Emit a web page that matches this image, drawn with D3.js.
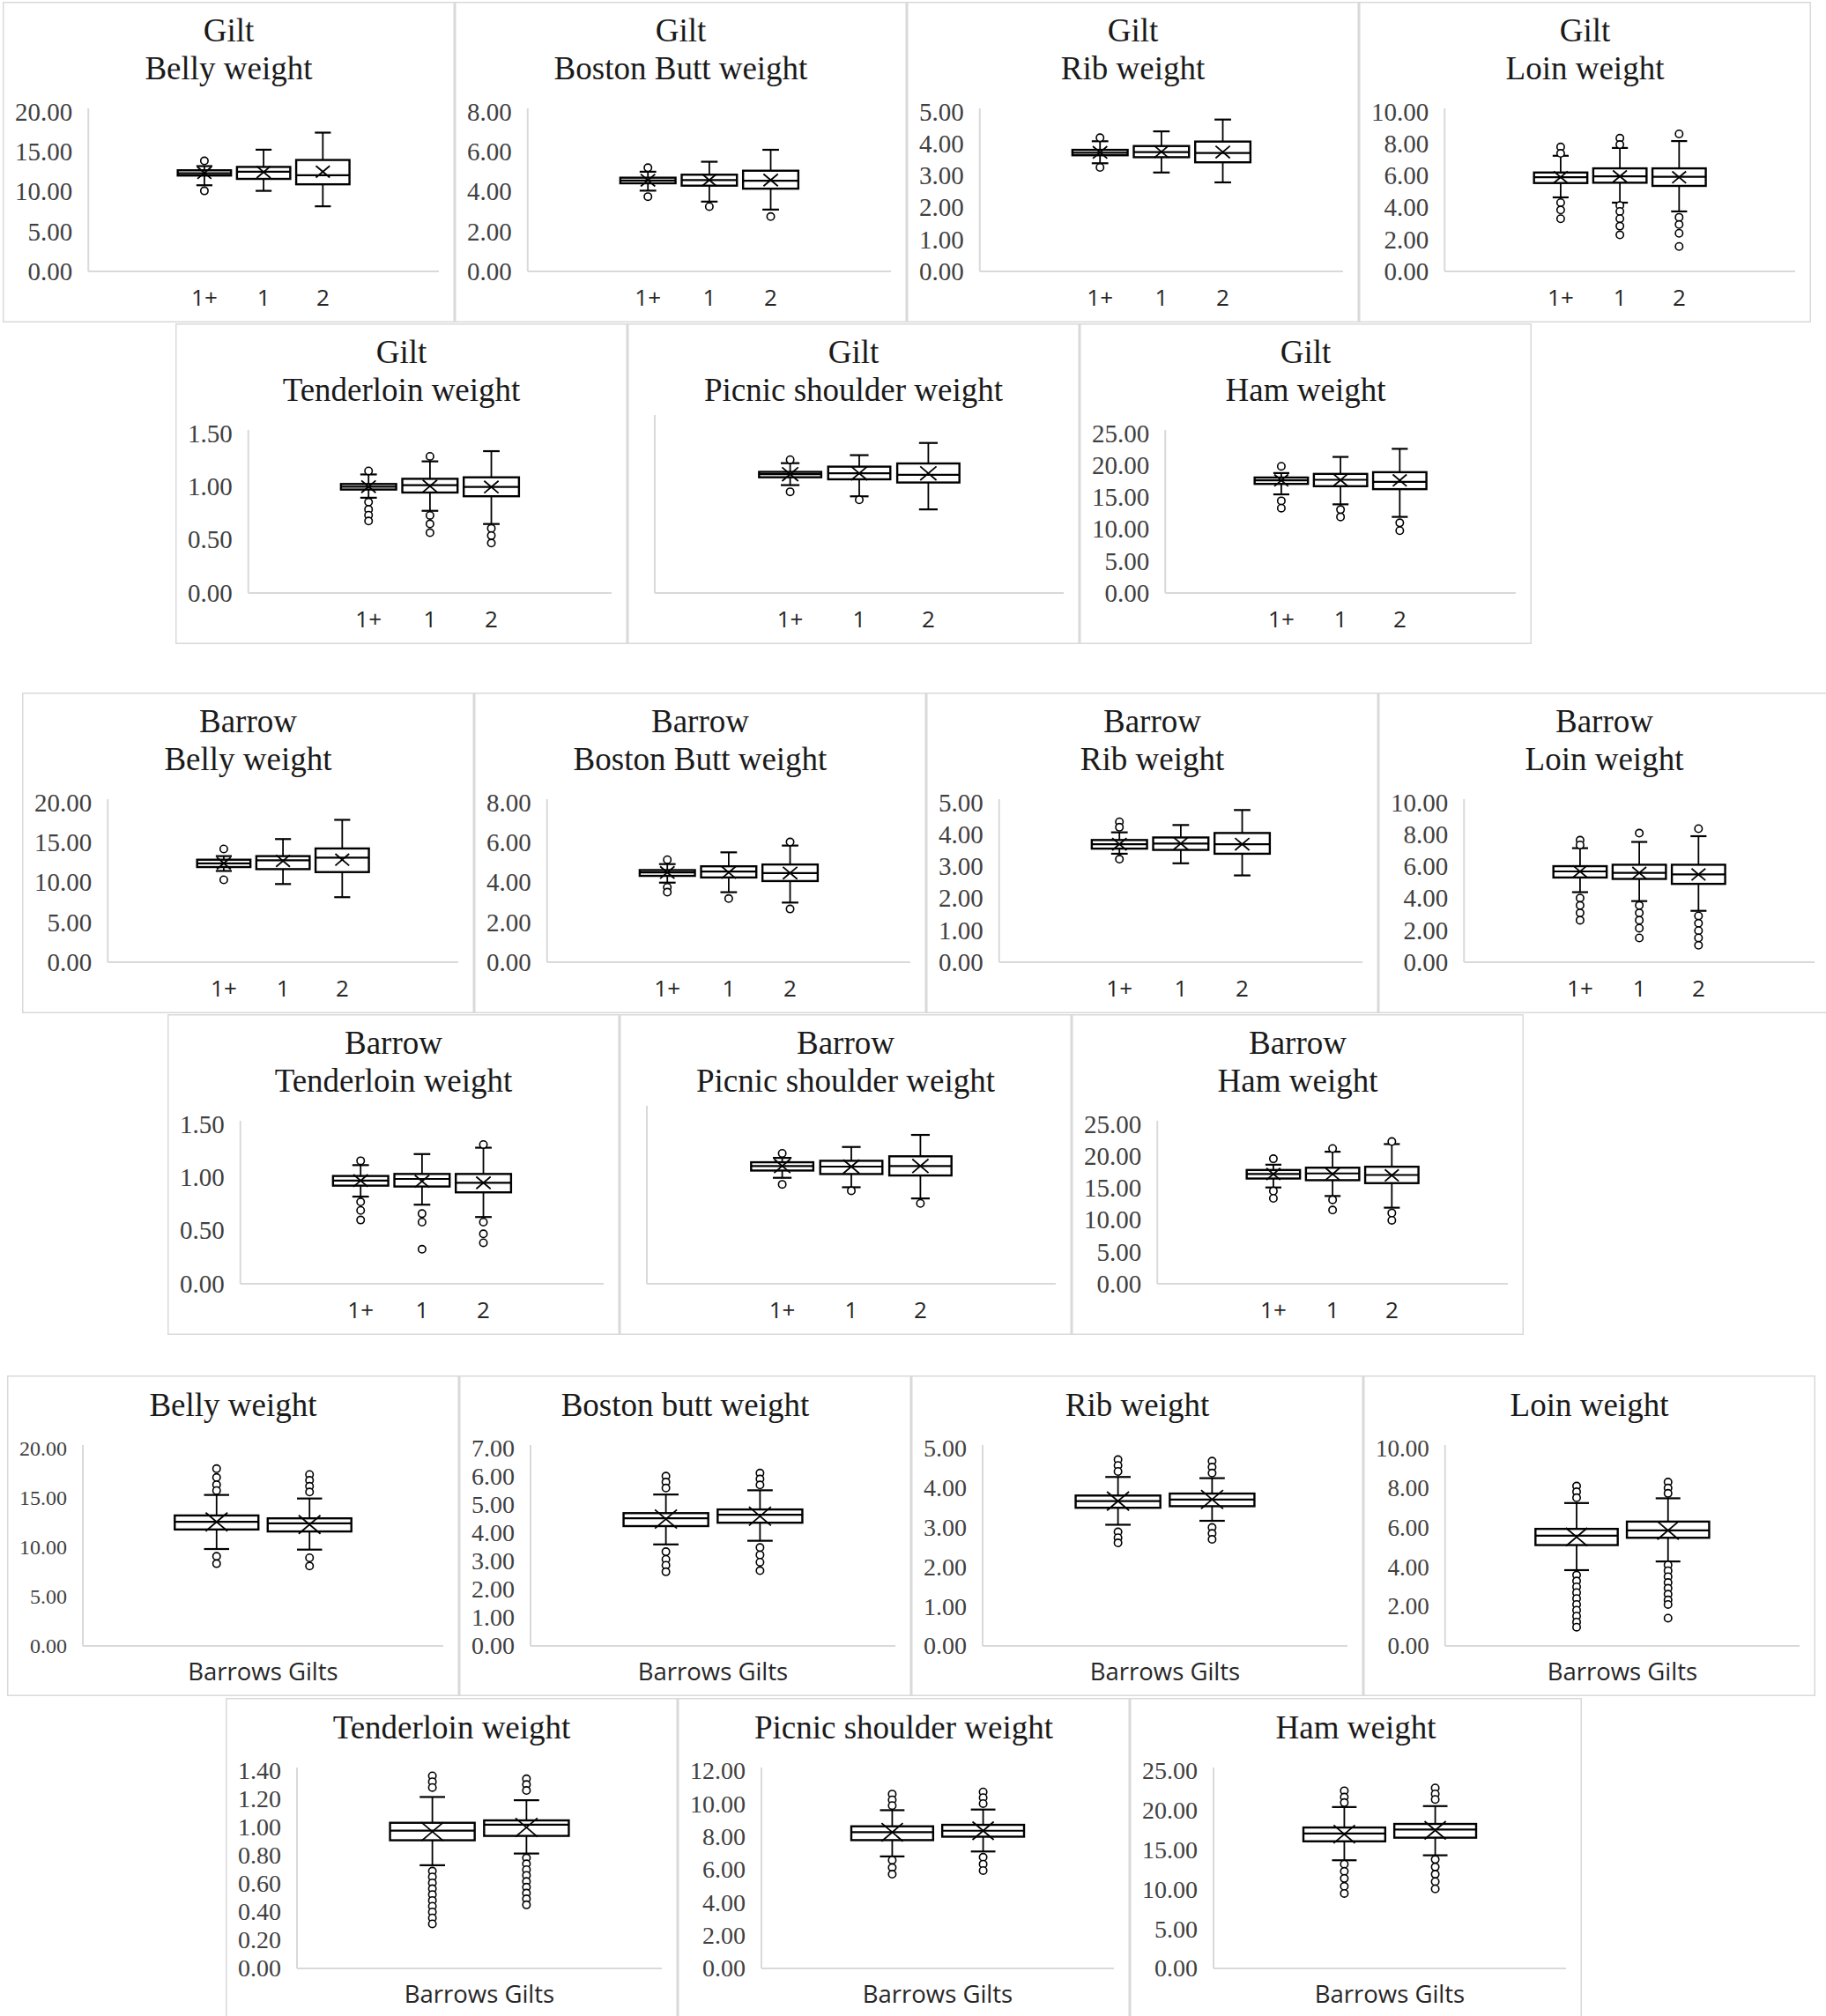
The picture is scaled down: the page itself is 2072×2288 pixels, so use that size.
<!DOCTYPE html>
<html>
<head>
<meta charset="utf-8">
<title>Carcass cut weights</title>
<script src="https://cdn.jsdelivr.net/npm/d3@7/dist/d3.min.js"></script>
<style>
  html, body { margin: 0; padding: 0; background: #fff; }
  svg { display: block; }
</style>
</head>
<body>
<svg id="chart" width="2072" height="2288"></svg>
<script>
// ---- categories ----
const cutGroups = ["1+", "1", "2"];
const sexGroups = ["Barrows", "Gilts"];

// ---- y tick labels ----
const ticks20 = [0, 5, 10, 15, 20];
const ticks8 = [0, 2, 4, 6, 8];
const ticks5 = [0, 1, 2, 3, 4, 5];
const ticks10 = [0, 2, 4, 6, 8, 10];
const ticks15 = [0, 0.5, 1, 1.5];
const ticks25 = [0, 5, 10, 15, 20, 25];
const ticks7 = [0, 1, 2, 3, 4, 5, 6, 7];
const ticks14 = [0, 0.2, 0.4, 0.6, 0.8, 1.0, 1.2, 1.4];
const ticks12 = [0, 2, 4, 6, 8, 10, 12];
const noTicks = [];          // picnic shoulder (by grade) charts have no labels
const picnicBareMax = 12;    // ...but their axis still runs 0-12

// box rows: [lower whisker, Q1, median, Q3, upper whisker, mean]
// ---- Gilt by grade ----
const giltBelly = [[10.8, 12.02, 12.3, 12.68, 13.2, 12.35], [10.1, 11.6, 12.5, 13.1, 15.26, 12.45], [8.16, 10.92, 12.06, 13.97, 17.4, 12.5]];
const giltBellyOut = [[13.86, 10.1], [], []];
const giltButt = [[4.05, 4.42, 4.56, 4.7, 5.0, 4.57], [3.5, 4.3, 4.58, 4.85, 5.5, 4.58], [3.1, 4.15, 4.55, 5.05, 6.1, 4.58]];
const giltButtOut = [[5.2, 3.75], [3.25], [2.75]];
const giltRib = [[3.39, 3.64, 3.72, 3.81, 4.08, 3.73], [3.1, 3.58, 3.74, 3.93, 4.39, 3.75], [2.79, 3.42, 3.71, 4.07, 4.76, 3.74]];
const giltRibOut = [[4.19, 3.26], [], []];
const giltLoin = [[4.64, 5.54, 5.91, 6.2, 7.25, 5.91], [4.31, 5.56, 5.96, 6.46, 7.74, 5.96], [3.76, 5.36, 5.93, 6.46, 8.17, 5.9]];
const giltLoinOut = [[7.8, 7.4, 4.31, 3.85, 3.3], [8.35, 7.95, 4.13, 3.76, 3.3, 2.84, 2.29], [8.62, 3.39, 2.94, 2.39, 1.56]];
const giltTender = [[0.896, 0.973, 1.0, 1.025, 1.115, 1.0], [0.773, 0.945, 1.014, 1.074, 1.238, 1.005], [0.649, 0.91, 0.997, 1.088, 1.334, 0.997]];
const giltTenderOut = [[1.148, 0.855, 0.786, 0.732, 0.677], [1.285, 0.73, 0.65, 0.567], [0.608, 0.54, 0.47]];
const giltPicnic = [[7.42, 7.96, 8.17, 8.33, 8.93, 8.17], [6.65, 7.82, 8.23, 8.69, 9.48, 8.23], [5.75, 7.6, 8.13, 8.91, 10.32, 8.23]];
const giltPicnicOut = [[9.17, 6.96], [6.41], []];
const giltHam = [[15.46, 17.1, 17.66, 18.1, 18.8, 17.66], [13.9, 16.74, 17.75, 18.67, 21.33, 17.7], [11.93, 16.28, 17.43, 18.94, 22.6, 17.66]];
const giltHamOut = [[19.86, 14.45, 13.3], [13.07, 11.93], [11.0, 9.77]];

// ---- Barrow by grade ----
const barBelly = [[11.44, 11.93, 12.4, 12.85, 13.3, 12.4], [9.8, 11.67, 12.78, 13.3, 15.44, 12.7], [8.15, 11.3, 13.1, 14.26, 17.85, 12.85]];
const barBellyOut = [[14.2, 10.33], [], []];
const barButt = [[3.99, 4.33, 4.5, 4.62, 4.92, 4.5], [3.51, 4.25, 4.55, 4.81, 5.51, 4.5], [2.99, 4.07, 4.47, 4.9, 5.85, 4.47]];
const barButtOut = [[5.14, 3.76, 3.51], [3.19], [6.03, 2.67]];
const barRib = [[3.4, 3.56, 3.7, 3.83, 4.07, 3.7], [3.1, 3.52, 3.72, 3.91, 4.3, 3.72], [2.72, 3.4, 3.7, 4.05, 4.77, 3.7]];
const barRibOut = [[4.4, 4.23, 3.23], [], []];
const barLoin = [[4.39, 5.31, 5.69, 6.02, 7.15, 5.69], [3.83, 5.22, 5.6, 6.11, 7.54, 5.6], [3.22, 4.91, 5.5, 6.11, 7.9, 5.5]];
const barLoinOut = [[7.65, 7.35, 4.02, 3.56, 3.09, 2.63], [8.09, 3.56, 3.09, 2.63, 2.13, 1.52], [8.37, 2.9, 2.44, 1.98, 1.52, 1.06]];
const barTender = [[0.82, 0.923, 0.97, 1.014, 1.116, 0.97], [0.744, 0.915, 0.986, 1.033, 1.22, 0.964], [0.628, 0.86, 0.95, 1.033, 1.28, 0.95]];
const barTenderOut = [[1.157, 0.77, 0.69, 0.6], [0.66, 0.58, 0.325], [1.31, 0.58, 0.47, 0.386]];
const barPicnic = [[7.29, 7.79, 8.1, 8.36, 8.66, 8.1], [6.64, 7.55, 8.06, 8.46, 9.41, 8.06], [5.87, 7.45, 8.1, 8.77, 10.24, 8.1]];
const barPicnicOut = [[8.97, 6.84], [6.4], [5.53]];
const barHam = [[15.1, 16.5, 17.2, 17.84, 18.67, 17.2], [13.76, 16.24, 17.3, 18.2, 20.7, 17.2], [11.93, 15.78, 17.06, 18.35, 21.9, 17.0]];
const barHamOut = [[19.6, 14.54, 13.4], [21.2, 13.17, 11.56], [22.3, 11.1, 9.95]];

// ---- Barrows vs Gilts ----
const sexBelly = [[9.82, 11.8, 12.57, 13.22, 15.3, 12.57], [9.76, 11.6, 12.43, 12.93, 14.94, 12.3]];
const sexBellyOut = [[17.96, 17.07, 16.33, 15.74, 9.08, 8.34], [17.37, 16.78, 16.18, 15.6, 8.93, 8.1]];
const sexButt = [[3.6, 4.25, 4.53, 4.71, 5.37, 4.5], [3.73, 4.37, 4.65, 4.84, 5.52, 4.6]];
const sexButtOut = [[6.02, 5.81, 5.6, 3.34, 3.07, 2.86, 2.63], [6.13, 5.92, 5.71, 3.49, 3.23, 2.97, 2.67]];
const sexRib = [[3.07, 3.5, 3.67, 3.81, 4.28, 3.67], [3.17, 3.54, 3.71, 3.86, 4.25, 3.71]];
const sexRibOut = [[4.72, 4.57, 4.42, 2.89, 2.74, 2.61], [4.68, 4.53, 4.38, 3.0, 2.85, 2.7]];
const sexLoin = [[3.84, 5.11, 5.59, 5.93, 7.24, 5.52], [4.28, 5.48, 5.85, 6.3, 7.48, 5.85]];
const sexLoinOut = [[8.1, 7.81, 7.51, 3.59, 3.29, 2.99, 2.7, 2.4, 2.1, 1.81, 1.51, 1.21, 0.95],
                    [8.3, 8.0, 7.73, 4.1, 3.81, 3.51, 3.21, 2.92, 2.62, 2.33, 2.1, 1.41]];
const sexTender = [[0.732, 0.909, 0.977, 1.033, 1.216, 0.97], [0.815, 0.94, 1.019, 1.05, 1.193, 1.0]];
const sexTenderOut = [[1.366, 1.324, 1.283, 0.69, 0.649, 0.607, 0.565, 0.524, 0.482, 0.441, 0.4, 0.358, 0.316],
                      [1.345, 1.304, 1.262, 0.784, 0.742, 0.7, 0.66, 0.617, 0.576, 0.534, 0.493, 0.451]];
const sexPicnic = [[6.81, 7.8, 8.28, 8.64, 9.62, 8.28], [7.11, 8.01, 8.37, 8.73, 9.66, 8.37]];
const sexPicnicOut = [[10.6, 10.25, 9.9, 6.58, 6.13, 5.73], [10.73, 10.38, 10.02, 6.76, 6.34, 5.95]];
const sexHam = [[13.7, 16.1, 17.1, 17.85, 20.44, 17.0], [14.33, 16.56, 17.6, 18.3, 20.56, 17.5]];
const sexHamOut = [[22.5, 21.7, 21.0, 13.2, 12.3, 11.4, 10.4, 9.5], [22.85, 22.1, 21.4, 13.8, 12.85, 11.93, 11.0, 10.07]];

// ---- layout ----
const W = 513, H = 364;
const rowOrigin = [[3, 2], [199, 367], [25, 786], [190, 1151], [8, 1561], [256, 1927]];
const cutStyle = {titleY: [45, 88], top: 125, topBare: 108, bottom: 306, tickFont: 29, labelY: 345, labelFont: 26};
const sexStyle = {titleY: [46], top: 83, topBare: 83, bottom: 307, tickFont: 28, labelY: 346, labelFont: 27.5};

// [row, col, title lines, boxes, outliers, y ticks, tick font override]
const panels = [
  [0, 0, ["Gilt", "Belly weight"], giltBelly, giltBellyOut, ticks20],
  [0, 1, ["Gilt", "Boston Butt weight"], giltButt, giltButtOut, ticks8],
  [0, 2, ["Gilt", "Rib weight"], giltRib, giltRibOut, ticks5],
  [0, 3, ["Gilt", "Loin weight"], giltLoin, giltLoinOut, ticks10],
  [1, 0, ["Gilt", "Tenderloin weight"], giltTender, giltTenderOut, ticks15],
  [1, 1, ["Gilt", "Picnic shoulder weight"], giltPicnic, giltPicnicOut, noTicks],
  [1, 2, ["Gilt", "Ham weight"], giltHam, giltHamOut, ticks25],
  [2, 0, ["Barrow", "Belly weight"], barBelly, barBellyOut, ticks20],
  [2, 1, ["Barrow", "Boston Butt weight"], barButt, barButtOut, ticks8],
  [2, 2, ["Barrow", "Rib weight"], barRib, barRibOut, ticks5],
  [2, 3, ["Barrow", "Loin weight"], barLoin, barLoinOut, ticks10],
  [3, 0, ["Barrow", "Tenderloin weight"], barTender, barTenderOut, ticks15],
  [3, 1, ["Barrow", "Picnic shoulder weight"], barPicnic, barPicnicOut, noTicks],
  [3, 2, ["Barrow", "Ham weight"], barHam, barHamOut, ticks25],
  [4, 0, ["Belly weight"], sexBelly, sexBellyOut, ticks20, 24],
  [4, 1, ["Boston butt weight"], sexButt, sexButtOut, ticks7],
  [4, 2, ["Rib weight"], sexRib, sexRibOut, ticks5],
  [4, 3, ["Loin weight"], sexLoin, sexLoinOut, ticks10, 27],
  [5, 0, ["Tenderloin weight"], sexTender, sexTenderOut, ticks14],
  [5, 1, ["Picnic shoulder weight"], sexPicnic, sexPicnicOut, ticks12],
  [5, 2, ["Ham weight"], sexHam, sexHamOut, ticks25]
];

const svg = d3.select("#chart");
const serif = "'Liberation Serif', 'Times New Roman', serif";
const sans = "'Open Sans', 'Noto Sans', sans-serif";
const fmt = d3.format(".2f");

function drawPanel([r, c, title, box, out, ticks, tickFont]) {
  const st = title.length > 1 ? cutStyle : sexStyle;
  const groups = box.length === 3 ? cutGroups : sexGroups;
  const [ox, oy] = rowOrigin[r];
  const g = svg.append("g").attr("transform", `translate(${ox + c * W},${oy})`);

  g.append("rect")
      .attr("x", 0.75).attr("y", 0.75)
      .attr("width", W - 1.5).attr("height", H - 1.5)
      .attr("fill", "#fff").attr("stroke", "#d9d9d9").attr("stroke-width", 1.5);

  const t = g.append("text")
      .attr("text-anchor", "middle")
      .style("font-family", serif).style("font-size", "37px")
      .attr("fill", "#1a1a1a");
  title.forEach((s, i) => t.append("tspan").attr("x", W / 2).attr("y", st.titleY[i]).text(s));

  const bare = ticks.length === 0;
  const top = bare ? st.topBare : st.top;
  const yMax = bare ? picnicBareMax : d3.max(ticks);
  const y = d3.scaleLinear().domain([0, yMax]).range([st.bottom, top]);

  let left = 31;
  if (!bare) {
    const ya = g.append("g")
        .call(d3.axisLeft(y).tickValues(ticks).tickFormat(fmt).tickSize(0).tickPadding(0));
    ya.select(".domain").remove();
    ya.attr("font-family", null).attr("font-size", null);
    ya.selectAll("text")
        .style("font-family", serif).style("font-size", (tickFont || st.tickFont) + "px")
        .attr("fill", "#404040");
    const maxW = d3.max(ya.selectAll("text").nodes(), n => n.getComputedTextLength());
    left = 14 + maxW + 18;
    ya.attr("transform", `translate(${left - 18},0)`);
  }
  const right = 495;

  // axis lines
  g.append("line")
      .attr("x1", left).attr("x2", left).attr("y1", top - 4).attr("y2", st.bottom)
      .attr("stroke", "#d9d9d9").attr("stroke-width", 2);
  g.append("line")
      .attr("x1", left).attr("x2", right).attr("y1", st.bottom).attr("y2", st.bottom)
      .attr("stroke", "#d9d9d9").attr("stroke-width", 2);

  const pw = right - left, cx = (left + right) / 2;
  const x = d3.scaleBand().domain(groups)
      .range([cx - pw * 0.245, cx + pw * 0.245])
      .paddingInner(0.1);
  const bw = x.bandwidth();
  const cap = bw * 0.15;
  const hx = bw * 0.13, hy = hx * 0.85;

  const rows = groups.map((k, i) => ({k, s: box[i], o: out[i]}));
  const bg = g.append("g").selectAll("g").data(rows).join("g")
      .attr("transform", d => `translate(${x(d.k) + bw / 2},0)`)
      .attr("stroke", "#000").attr("fill", "none");

  // whiskers
  bg.append("line").attr("y1", d => y(d.s[0])).attr("y2", d => y(d.s[1])).attr("stroke-width", 1.8);
  bg.append("line").attr("y1", d => y(d.s[3])).attr("y2", d => y(d.s[4])).attr("stroke-width", 1.8);
  bg.append("line").attr("x1", -cap).attr("x2", cap)
      .attr("y1", d => y(d.s[0])).attr("y2", d => y(d.s[0])).attr("stroke-width", 2.2);
  bg.append("line").attr("x1", -cap).attr("x2", cap)
      .attr("y1", d => y(d.s[4])).attr("y2", d => y(d.s[4])).attr("stroke-width", 2.2);

  // outliers
  bg.selectAll("circle").data(d => d.o).join("circle")
      .attr("cx", 0).attr("cy", v => y(v)).attr("r", 4.2)
      .attr("fill", "#fff").attr("stroke-width", 1.6);

  // box + median
  bg.append("rect")
      .attr("x", -bw / 2).attr("width", bw)
      .attr("y", d => y(d.s[3])).attr("height", d => y(d.s[1]) - y(d.s[3]))
      .attr("fill", "#fff").attr("stroke-width", 2.4);
  bg.append("line").attr("x1", -bw / 2).attr("x2", bw / 2)
      .attr("y1", d => y(d.s[2])).attr("y2", d => y(d.s[2])).attr("stroke-width", 2.2);

  // mean marker
  bg.append("path")
      .attr("d", d => {
        const m = y(d.s[5]);
        return `M${-hx},${m - hy}L${hx},${m + hy}M${-hx},${m + hy}L${hx},${m - hy}`;
      })
      .attr("stroke-width", 1.8);

  // category labels
  const lab = g.append("g")
      .attr("text-anchor", "middle")
      .style("font-family", sans).style("font-size", st.labelFont + "px")
      .attr("fill", "#262626");
  if (groups.length === 2) {
    lab.append("text").attr("x", cx).attr("y", st.labelY).text(groups.join(" "));
  } else {
    lab.selectAll("text").data(groups).join("text")
        .attr("x", d => x(d) + bw / 2).attr("y", st.labelY).text(d => d);
  }
}

panels.forEach(drawPanel);
</script>
</body>
</html>
